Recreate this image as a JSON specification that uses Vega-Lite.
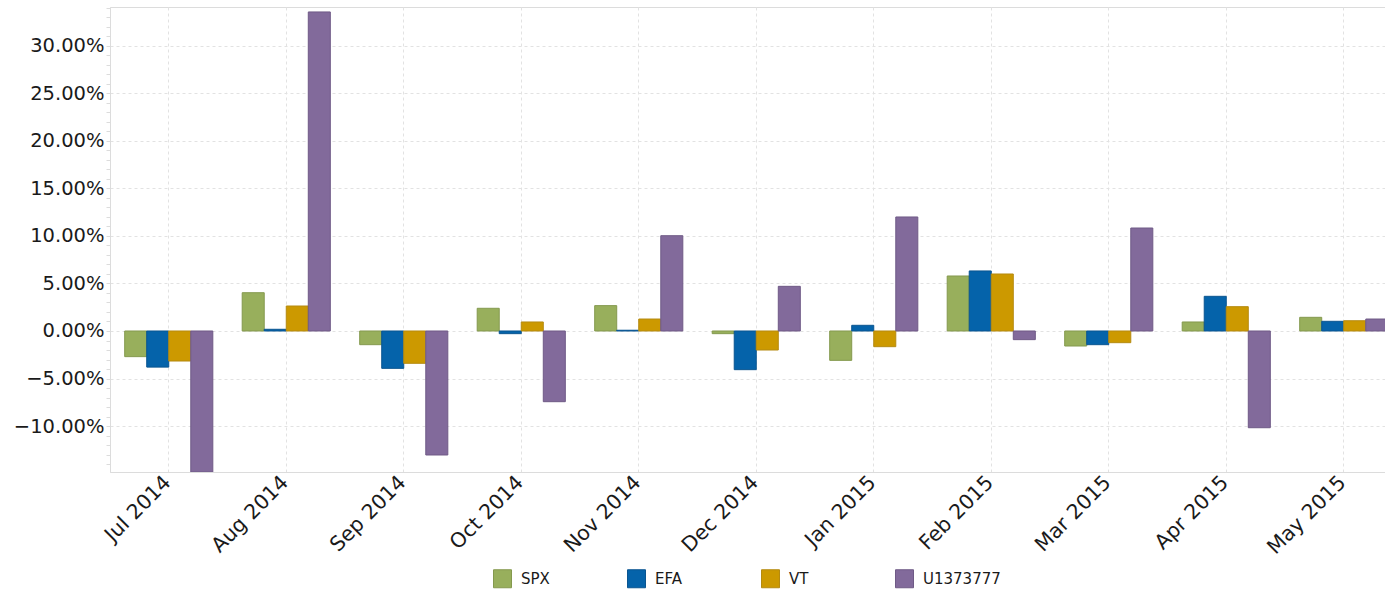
{
  "$schema": "https://vega.github.io/schema/vega-lite/v6.json",
  "autosize": "none",
  "width": 1292.5,
  "height": 465,
  "padding": {"left": 110, "top": 7, "right": 0, "bottom": 119},
  "config": {
    "view": {"stroke": "#dcdcdc", "strokeWidth": 1},
    "font": "DejaVu Sans"
  },
  "data": {
    "values": [
      {"month": "Jul 2014", "series": "SPX", "value": -0.0270},
      {"month": "Jul 2014", "series": "EFA", "value": -0.0380},
      {"month": "Jul 2014", "series": "VT", "value": -0.0316},
      {"month": "Jul 2014", "series": "U1373777", "value": -0.1484},
      {"month": "Aug 2014", "series": "SPX", "value": 0.0403},
      {"month": "Aug 2014", "series": "EFA", "value": 0.0018},
      {"month": "Aug 2014", "series": "VT", "value": 0.0263},
      {"month": "Aug 2014", "series": "U1373777", "value": 0.3358},
      {"month": "Sep 2014", "series": "SPX", "value": -0.0144},
      {"month": "Sep 2014", "series": "EFA", "value": -0.0393},
      {"month": "Sep 2014", "series": "VT", "value": -0.0340},
      {"month": "Sep 2014", "series": "U1373777", "value": -0.1305},
      {"month": "Oct 2014", "series": "SPX", "value": 0.0239},
      {"month": "Oct 2014", "series": "EFA", "value": -0.0028},
      {"month": "Oct 2014", "series": "VT", "value": 0.0095},
      {"month": "Oct 2014", "series": "U1373777", "value": -0.0744},
      {"month": "Nov 2014", "series": "SPX", "value": 0.0267},
      {"month": "Nov 2014", "series": "EFA", "value": 0.0008},
      {"month": "Nov 2014", "series": "VT", "value": 0.0126},
      {"month": "Nov 2014", "series": "U1373777", "value": 0.1003},
      {"month": "Dec 2014", "series": "SPX", "value": -0.0028},
      {"month": "Dec 2014", "series": "EFA", "value": -0.0407},
      {"month": "Dec 2014", "series": "VT", "value": -0.0200},
      {"month": "Dec 2014", "series": "U1373777", "value": 0.0470},
      {"month": "Jan 2015", "series": "SPX", "value": -0.0309},
      {"month": "Jan 2015", "series": "EFA", "value": 0.0060},
      {"month": "Jan 2015", "series": "VT", "value": -0.0165},
      {"month": "Jan 2015", "series": "U1373777", "value": 0.1200},
      {"month": "Feb 2015", "series": "SPX", "value": 0.0579},
      {"month": "Feb 2015", "series": "EFA", "value": 0.0632},
      {"month": "Feb 2015", "series": "VT", "value": 0.0600},
      {"month": "Feb 2015", "series": "U1373777", "value": -0.0091},
      {"month": "Mar 2015", "series": "SPX", "value": -0.0158},
      {"month": "Mar 2015", "series": "EFA", "value": -0.0144},
      {"month": "Mar 2015", "series": "VT", "value": -0.0123},
      {"month": "Mar 2015", "series": "U1373777", "value": 0.1084},
      {"month": "Apr 2015", "series": "SPX", "value": 0.0095},
      {"month": "Apr 2015", "series": "EFA", "value": 0.0365},
      {"month": "Apr 2015", "series": "VT", "value": 0.0256},
      {"month": "Apr 2015", "series": "U1373777", "value": -0.1018},
      {"month": "May 2015", "series": "SPX", "value": 0.0144},
      {"month": "May 2015", "series": "EFA", "value": 0.0102},
      {"month": "May 2015", "series": "VT", "value": 0.0108},
      {"month": "May 2015", "series": "U1373777", "value": 0.0126}
    ]
  },
  "mark": {"type": "bar", "strokeWidth": 1, "clip": true},
  "encoding": {
    "x": {
      "field": "month",
      "type": "nominal",
      "sort": ["Jul 2014", "Aug 2014", "Sep 2014", "Oct 2014", "Nov 2014", "Dec 2014", "Jan 2015", "Feb 2015", "Mar 2015", "Apr 2015", "May 2015"],
      "scale": {"paddingInner": 0.25, "paddingOuter": 0.125},
      "axis": {
        "title": null,
        "labelAngle": -45,
        "labelAlign": "right",
        "labelBaseline": "top",
        "labelFontSize": 20.5,
        "labelColor": "#1a1a1a",
        "labelPadding": 0,
        "labelOffset": -8,
        "ticks": false,
        "domainColor": "#dcdcdc",
        "grid": true,
        "gridColor": "#e2e2e2",
        "gridDash": [3, 3]
      }
    },
    "xOffset": {
      "field": "series",
      "sort": ["SPX", "EFA", "VT", "U1373777"],
      "scale": {"paddingInner": 0, "paddingOuter": 0}
    },
    "y": {
      "field": "value",
      "type": "quantitative",
      "scale": {"domain": [-0.1484, 0.341], "nice": false, "zero": false},
      "axis": {
        "title": null,
        "values": [-0.14, -0.13, -0.12, -0.11, -0.10, -0.09, -0.08, -0.07, -0.06, -0.05, -0.04, -0.03, -0.02, -0.01, 0, 0.01, 0.02, 0.03, 0.04, 0.05, 0.06, 0.07, 0.08, 0.09, 0.10, 0.11, 0.12, 0.13, 0.14, 0.15, 0.16, 0.17, 0.18, 0.19, 0.20, 0.21, 0.22, 0.23, 0.24, 0.25, 0.26, 0.27, 0.28, 0.29, 0.30, 0.31, 0.32, 0.33, 0.34],
        "labelExpr": "abs(round(datum.value*100)) % 5 == 0 ? format(datum.value, '.2%') : ''",
        "labelFontSize": 19.5,
        "labelColor": "#1a1a1a",
        "labelPadding": 2,
        "tickSize": 4,
        "tickColor": "#dcdcdc",
        "domainColor": "#dcdcdc",
        "labelOverlap": false,
        "grid": true,
        "gridColor": "#e2e2e2",
        "gridDash": [3, 3],
        "gridOpacity": {"condition": {"test": "abs(round(datum.value*100)) % 5 == 0", "value": 1}, "value": 0}
      }
    },
    "color": {
      "field": "series",
      "type": "nominal",
      "sort": ["SPX", "EFA", "VT", "U1373777"],
      "scale": {"domain": ["SPX", "EFA", "VT", "U1373777"], "range": ["#98AF5C", "#0563AA", "#CC9900", "#826A9B"]},
      "legend": {
        "title": null,
        "orient": "none",
        "legendX": 383,
        "legendY": 562,
        "direction": "horizontal",
        "columns": 4,
        "gridAlign": "all",
        "columnPadding": 26,
        "symbolType": "square",
        "symbolSize": 324,
        "symbolStrokeWidth": 1,
        "symbolStrokeColor": "#9a9a9a",
        "labelFontSize": 15,
        "labelColor": "#1a1a1a",
        "labelOffset": 9,
        "labelLimit": 200
      }
    },
    "stroke": {
      "field": "series",
      "type": "nominal",
      "scale": {"domain": ["SPX", "EFA", "VT", "U1373777"], "range": ["#84994E", "#0A5590", "#B58A10", "#6F5A86"]},
      "legend": null
    }
  }
}
